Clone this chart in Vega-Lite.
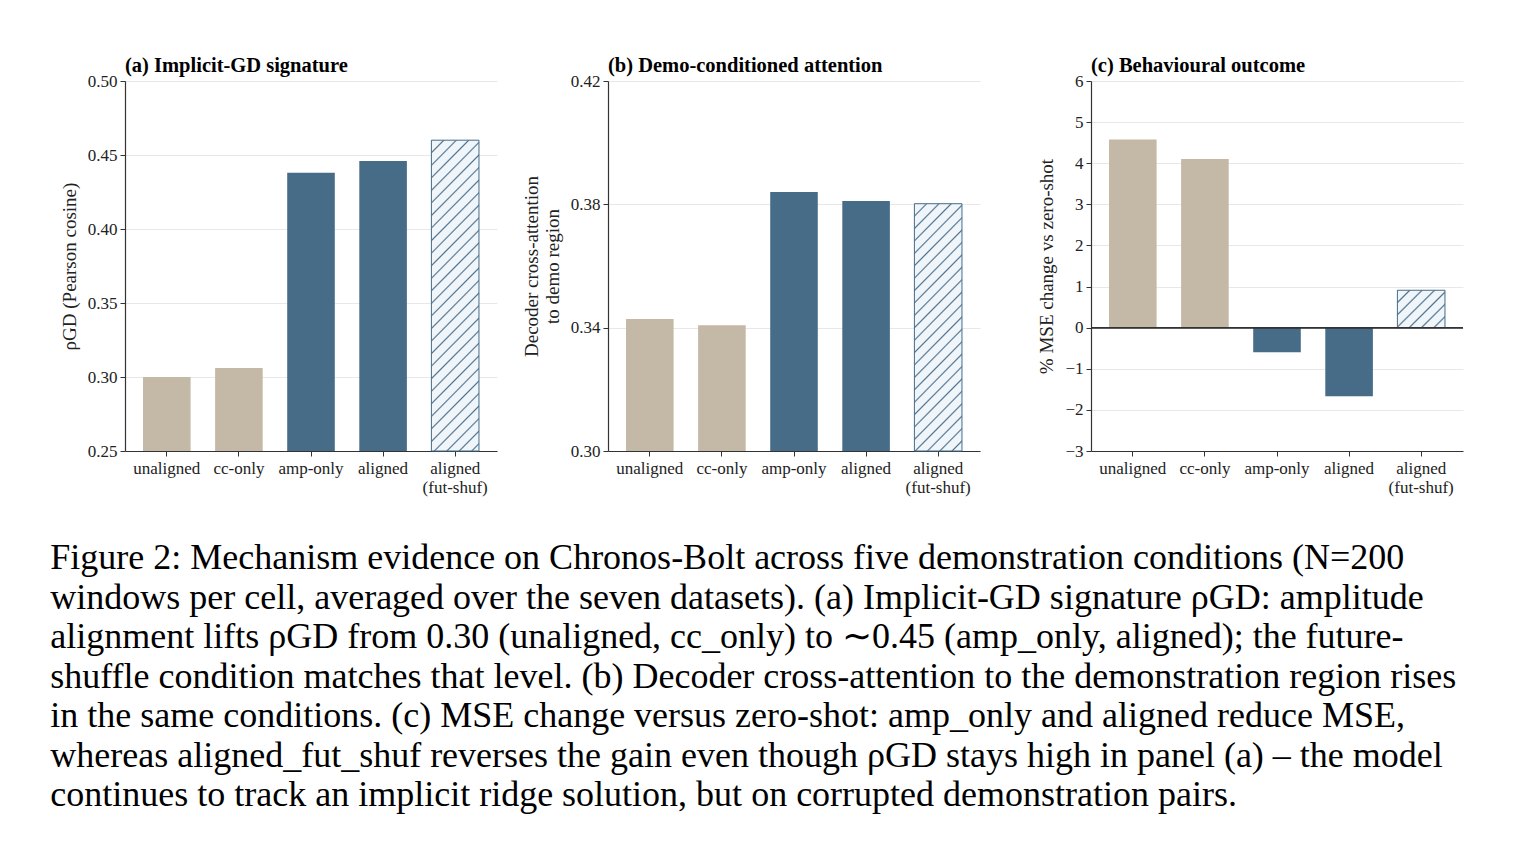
{
  "$schema": "https://vega.github.io/schema/vega-lite/v6.json",
  "background": "white",
  "padding": {"left": 50, "top": 55, "right": 10, "bottom": 10},
  "datasets": {
    "bars": [
      {"panel": "a", "cond": "unaligned", "kind": "base", "value": 0.300},
      {"panel": "a", "cond": "cc-only", "kind": "base", "value": 0.306},
      {"panel": "a", "cond": "amp-only", "kind": "amp", "value": 0.438},
      {"panel": "a", "cond": "aligned", "kind": "amp", "value": 0.446},
      {"panel": "a", "cond": "aligned (fut-shuf)", "kind": "hatch", "value": 0.460},
      {"panel": "b", "cond": "unaligned", "kind": "base", "value": 0.3428},
      {"panel": "b", "cond": "cc-only", "kind": "base", "value": 0.3408},
      {"panel": "b", "cond": "amp-only", "kind": "amp", "value": 0.3840},
      {"panel": "b", "cond": "aligned", "kind": "amp", "value": 0.3811},
      {"panel": "b", "cond": "aligned (fut-shuf)", "kind": "hatch", "value": 0.3802},
      {"panel": "c", "cond": "unaligned", "kind": "base", "value": 4.58},
      {"panel": "c", "cond": "cc-only", "kind": "base", "value": 4.10},
      {"panel": "c", "cond": "amp-only", "kind": "amp", "value": -0.60},
      {"panel": "c", "cond": "aligned", "kind": "amp", "value": -1.67},
      {"panel": "c", "cond": "aligned (fut-shuf)", "kind": "hatch", "value": 0.91}
    ]
  },
  "data": {"name": "bars"},
  "title": {
    "text": [
      "Figure 2: Mechanism evidence on Chronos-Bolt across five demonstration conditions (N=200",
      "windows per cell, averaged over the seven datasets). (a) Implicit-GD signature ρGD: amplitude",
      "alignment lifts ρGD from 0.30 (unaligned, cc_only) to ∼0.45 (amp_only, aligned); the future-",
      "shuffle condition matches that level. (b) Decoder cross-attention to the demonstration region rises",
      "in the same conditions. (c) MSE change versus zero-shot: amp_only and aligned reduce MSE,",
      "whereas aligned_fut_shuf reverses the gain even though ρGD stays high in panel (a) – the model",
      "continues to track an implicit ridge solution, but on corrupted demonstration pairs."
    ],
    "orient": "bottom",
    "anchor": "start",
    "frame": "bounds",
    "font": "Liberation Serif",
    "fontSize": 36,
    "fontWeight": "normal",
    "lineHeight": 39.5,
    "color": "#000000",
    "offset": 46,
    "dx": -10
  },
  "spacing": 57,
  "hconcat": [
    {
      "spacing": 25,
      "hconcat": [
        {
          "title": "(a) Implicit-GD signature",
          "width": 372,
          "height": 370,
          "transform": [{"filter": "datum.panel == 'a'"}],
          "encoding": {
            "x": {
              "field": "cond",
              "type": "nominal",
              "sort": ["unaligned", "cc-only", "amp-only", "aligned", "aligned (fut-shuf)"],
              "scale": {"paddingInner": 0.34, "paddingOuter": 0.25},
              "axis": {"labelExpr": "datum.value == 'aligned (fut-shuf)' ? ['aligned', '(fut-shuf)'] : datum.value"}
            },
            "y": {
              "field": "value",
              "type": "quantitative",
              "scale": {"domain": [0.25, 0.5], "zero": false, "nice": false},
              "axis": {"title": "ρGD  (Pearson cosine)", "values": [0.25, 0.3, 0.35, 0.4, 0.45, 0.5], "format": ".2f"}
            },
            "y2": {"datum": 0.25}
          },
          "layer": [
            {
              "transform": [{"filter": "datum.kind != 'hatch'"}],
              "mark": {"type": "bar"},
              "encoding": {
                "color": {"field": "kind", "type": "nominal", "scale": {"domain": ["base", "amp"], "range": ["#c4b8a6", "#466c87"]}, "legend": null}
              }
            },
            {
              "transform": [{"filter": "datum.kind == 'hatch'"}],
              "mark": {
                "type": "bar",
                "stroke": "#466c87",
                "strokeWidth": 1,
                "fill": {
                  "gradient": "linear", "x1": 0, "y1": 0, "x2": 0.174, "y2": 1.127,
                  "stops": [
                    {"offset": 0, "color": "#4f7390"}, {"offset": 0.0045, "color": "#f0f5f9"},
                    {"offset": 0.0305, "color": "#f0f5f9"}, {"offset": 0.035, "color": "#4f7390"}, {"offset": 0.0395, "color": "#f0f5f9"},
                    {"offset": 0.0655, "color": "#f0f5f9"}, {"offset": 0.07, "color": "#4f7390"}, {"offset": 0.0745, "color": "#f0f5f9"},
                    {"offset": 0.1005, "color": "#f0f5f9"}, {"offset": 0.105, "color": "#4f7390"}, {"offset": 0.1095, "color": "#f0f5f9"},
                    {"offset": 0.1355, "color": "#f0f5f9"}, {"offset": 0.14, "color": "#4f7390"}, {"offset": 0.1445, "color": "#f0f5f9"},
                    {"offset": 0.1705, "color": "#f0f5f9"}, {"offset": 0.175, "color": "#4f7390"}, {"offset": 0.1795, "color": "#f0f5f9"},
                    {"offset": 0.2055, "color": "#f0f5f9"}, {"offset": 0.21, "color": "#4f7390"}, {"offset": 0.2145, "color": "#f0f5f9"},
                    {"offset": 0.2405, "color": "#f0f5f9"}, {"offset": 0.245, "color": "#4f7390"}, {"offset": 0.2495, "color": "#f0f5f9"},
                    {"offset": 0.2755, "color": "#f0f5f9"}, {"offset": 0.28, "color": "#4f7390"}, {"offset": 0.2845, "color": "#f0f5f9"},
                    {"offset": 0.3105, "color": "#f0f5f9"}, {"offset": 0.315, "color": "#4f7390"}, {"offset": 0.3195, "color": "#f0f5f9"},
                    {"offset": 0.3455, "color": "#f0f5f9"}, {"offset": 0.35, "color": "#4f7390"}, {"offset": 0.3545, "color": "#f0f5f9"},
                    {"offset": 0.3805, "color": "#f0f5f9"}, {"offset": 0.385, "color": "#4f7390"}, {"offset": 0.3895, "color": "#f0f5f9"},
                    {"offset": 0.4155, "color": "#f0f5f9"}, {"offset": 0.42, "color": "#4f7390"}, {"offset": 0.4245, "color": "#f0f5f9"},
                    {"offset": 0.4505, "color": "#f0f5f9"}, {"offset": 0.455, "color": "#4f7390"}, {"offset": 0.4595, "color": "#f0f5f9"},
                    {"offset": 0.4855, "color": "#f0f5f9"}, {"offset": 0.49, "color": "#4f7390"}, {"offset": 0.4945, "color": "#f0f5f9"},
                    {"offset": 0.5205, "color": "#f0f5f9"}, {"offset": 0.525, "color": "#4f7390"}, {"offset": 0.5295, "color": "#f0f5f9"},
                    {"offset": 0.5555, "color": "#f0f5f9"}, {"offset": 0.56, "color": "#4f7390"}, {"offset": 0.5645, "color": "#f0f5f9"},
                    {"offset": 0.5905, "color": "#f0f5f9"}, {"offset": 0.595, "color": "#4f7390"}, {"offset": 0.5995, "color": "#f0f5f9"},
                    {"offset": 0.6255, "color": "#f0f5f9"}, {"offset": 0.63, "color": "#4f7390"}, {"offset": 0.6345, "color": "#f0f5f9"},
                    {"offset": 0.6605, "color": "#f0f5f9"}, {"offset": 0.665, "color": "#4f7390"}, {"offset": 0.6695, "color": "#f0f5f9"},
                    {"offset": 0.6955, "color": "#f0f5f9"}, {"offset": 0.7, "color": "#4f7390"}, {"offset": 0.7045, "color": "#f0f5f9"},
                    {"offset": 0.7305, "color": "#f0f5f9"}, {"offset": 0.735, "color": "#4f7390"}, {"offset": 0.7395, "color": "#f0f5f9"},
                    {"offset": 0.7655, "color": "#f0f5f9"}, {"offset": 0.77, "color": "#4f7390"}, {"offset": 0.7745, "color": "#f0f5f9"},
                    {"offset": 0.8005, "color": "#f0f5f9"}, {"offset": 0.805, "color": "#4f7390"}, {"offset": 0.8095, "color": "#f0f5f9"},
                    {"offset": 0.8355, "color": "#f0f5f9"}, {"offset": 0.84, "color": "#4f7390"}, {"offset": 0.8445, "color": "#f0f5f9"},
                    {"offset": 0.8705, "color": "#f0f5f9"}, {"offset": 0.875, "color": "#4f7390"}, {"offset": 0.8795, "color": "#f0f5f9"},
                    {"offset": 0.9055, "color": "#f0f5f9"}, {"offset": 0.91, "color": "#4f7390"}, {"offset": 0.9145, "color": "#f0f5f9"},
                    {"offset": 0.9405, "color": "#f0f5f9"}, {"offset": 0.945, "color": "#4f7390"}, {"offset": 0.9495, "color": "#f0f5f9"},
                    {"offset": 0.9755, "color": "#f0f5f9"}, {"offset": 0.98, "color": "#4f7390"}, {"offset": 0.9845, "color": "#f0f5f9"}
                  ]
                }
              }
            }
          ]
        },
        {
          "title": "(b) Demo-conditioned attention",
          "width": 372,
          "height": 370,
          "transform": [{"filter": "datum.panel == 'b'"}],
          "encoding": {
            "x": {
              "field": "cond",
              "type": "nominal",
              "sort": ["unaligned", "cc-only", "amp-only", "aligned", "aligned (fut-shuf)"],
              "scale": {"paddingInner": 0.34, "paddingOuter": 0.25},
              "axis": {"labelExpr": "datum.value == 'aligned (fut-shuf)' ? ['aligned', '(fut-shuf)'] : datum.value"}
            },
            "y": {
              "field": "value",
              "type": "quantitative",
              "scale": {"domain": [0.3, 0.42], "zero": false, "nice": false},
              "axis": {"title": ["Decoder cross-attention", "to demo region"], "values": [0.3, 0.34, 0.38, 0.42], "format": ".2f"}
            },
            "y2": {"datum": 0.3}
          },
          "layer": [
            {
              "transform": [{"filter": "datum.kind != 'hatch'"}],
              "mark": {"type": "bar"},
              "encoding": {
                "color": {"field": "kind", "type": "nominal", "scale": {"domain": ["base", "amp"], "range": ["#c4b8a6", "#466c87"]}, "legend": null}
              }
            },
            {
              "transform": [{"filter": "datum.kind == 'hatch'"}],
              "mark": {
                "type": "bar",
                "stroke": "#466c87",
                "strokeWidth": 1,
                "fill": {
                  "gradient": "linear", "x1": 0, "y1": 0, "x2": 0.224, "y2": 1.151,
                  "stops": [
                    {"offset": 0, "color": "#4f7390"}, {"offset": 0.0055, "color": "#f0f5f9"},
                    {"offset": 0.0365, "color": "#f0f5f9"}, {"offset": 0.042, "color": "#4f7390"}, {"offset": 0.0475, "color": "#f0f5f9"},
                    {"offset": 0.0785, "color": "#f0f5f9"}, {"offset": 0.084, "color": "#4f7390"}, {"offset": 0.0895, "color": "#f0f5f9"},
                    {"offset": 0.1205, "color": "#f0f5f9"}, {"offset": 0.126, "color": "#4f7390"}, {"offset": 0.1315, "color": "#f0f5f9"},
                    {"offset": 0.1625, "color": "#f0f5f9"}, {"offset": 0.168, "color": "#4f7390"}, {"offset": 0.1735, "color": "#f0f5f9"},
                    {"offset": 0.2045, "color": "#f0f5f9"}, {"offset": 0.21, "color": "#4f7390"}, {"offset": 0.2155, "color": "#f0f5f9"},
                    {"offset": 0.2465, "color": "#f0f5f9"}, {"offset": 0.252, "color": "#4f7390"}, {"offset": 0.2575, "color": "#f0f5f9"},
                    {"offset": 0.2885, "color": "#f0f5f9"}, {"offset": 0.294, "color": "#4f7390"}, {"offset": 0.2995, "color": "#f0f5f9"},
                    {"offset": 0.3305, "color": "#f0f5f9"}, {"offset": 0.336, "color": "#4f7390"}, {"offset": 0.3415, "color": "#f0f5f9"},
                    {"offset": 0.3725, "color": "#f0f5f9"}, {"offset": 0.378, "color": "#4f7390"}, {"offset": 0.3835, "color": "#f0f5f9"},
                    {"offset": 0.4145, "color": "#f0f5f9"}, {"offset": 0.42, "color": "#4f7390"}, {"offset": 0.4255, "color": "#f0f5f9"},
                    {"offset": 0.4565, "color": "#f0f5f9"}, {"offset": 0.462, "color": "#4f7390"}, {"offset": 0.4675, "color": "#f0f5f9"},
                    {"offset": 0.4985, "color": "#f0f5f9"}, {"offset": 0.504, "color": "#4f7390"}, {"offset": 0.5095, "color": "#f0f5f9"},
                    {"offset": 0.5405, "color": "#f0f5f9"}, {"offset": 0.546, "color": "#4f7390"}, {"offset": 0.5515, "color": "#f0f5f9"},
                    {"offset": 0.5825, "color": "#f0f5f9"}, {"offset": 0.588, "color": "#4f7390"}, {"offset": 0.5935, "color": "#f0f5f9"},
                    {"offset": 0.6245, "color": "#f0f5f9"}, {"offset": 0.63, "color": "#4f7390"}, {"offset": 0.6355, "color": "#f0f5f9"},
                    {"offset": 0.6665, "color": "#f0f5f9"}, {"offset": 0.672, "color": "#4f7390"}, {"offset": 0.6775, "color": "#f0f5f9"},
                    {"offset": 0.7085, "color": "#f0f5f9"}, {"offset": 0.714, "color": "#4f7390"}, {"offset": 0.7195, "color": "#f0f5f9"},
                    {"offset": 0.7505, "color": "#f0f5f9"}, {"offset": 0.756, "color": "#4f7390"}, {"offset": 0.7615, "color": "#f0f5f9"},
                    {"offset": 0.7925, "color": "#f0f5f9"}, {"offset": 0.798, "color": "#4f7390"}, {"offset": 0.8035, "color": "#f0f5f9"},
                    {"offset": 0.8345, "color": "#f0f5f9"}, {"offset": 0.84, "color": "#4f7390"}, {"offset": 0.8455, "color": "#f0f5f9"},
                    {"offset": 0.8765, "color": "#f0f5f9"}, {"offset": 0.882, "color": "#4f7390"}, {"offset": 0.8875, "color": "#f0f5f9"},
                    {"offset": 0.9185, "color": "#f0f5f9"}, {"offset": 0.924, "color": "#4f7390"}, {"offset": 0.9295, "color": "#f0f5f9"},
                    {"offset": 0.9605, "color": "#f0f5f9"}, {"offset": 0.966, "color": "#4f7390"}, {"offset": 0.9715, "color": "#f0f5f9"}
                  ]
                }
              }
            }
          ]
        }
      ]
    },
    {
      "title": "(c) Behavioural outcome",
      "width": 372,
      "height": 370,
      "transform": [{"filter": "datum.panel == 'c'"}],
      "encoding": {
        "x": {
          "field": "cond",
          "type": "nominal",
          "sort": ["unaligned", "cc-only", "amp-only", "aligned", "aligned (fut-shuf)"],
          "scale": {"paddingInner": 0.34, "paddingOuter": 0.25},
          "axis": {"labelExpr": "datum.value == 'aligned (fut-shuf)' ? ['aligned', '(fut-shuf)'] : datum.value"}
        },
        "y": {
          "field": "value",
          "type": "quantitative",
          "scale": {"domain": [-3, 6], "nice": false},
          "axis": {"title": "% MSE change vs zero-shot", "values": [-3, -2, -1, 0, 1, 2, 3, 4, 5, 6], "format": "d"}
        },
        "y2": {"datum": 0}
      },
      "layer": [
        {
          "transform": [{"filter": "datum.kind != 'hatch'"}],
          "mark": {"type": "bar"},
          "encoding": {
            "color": {"field": "kind", "type": "nominal", "scale": {"domain": ["base", "amp"], "range": ["#c4b8a6", "#466c87"]}, "legend": null}
          }
        },
        {
          "transform": [{"filter": "datum.kind == 'hatch'"}],
          "mark": {
            "type": "bar",
            "stroke": "#466c87",
            "strokeWidth": 1,
            "fill": {
              "gradient": "linear", "x1": 0, "y1": 0, "x2": 1.101, "y2": 0.872,
              "stops": [
                {"offset": 0, "color": "#4f7390"}, {"offset": 0.02, "color": "#f0f5f9"},
                {"offset": 0.125, "color": "#f0f5f9"}, {"offset": 0.145, "color": "#4f7390"}, {"offset": 0.165, "color": "#f0f5f9"},
                {"offset": 0.27, "color": "#f0f5f9"}, {"offset": 0.29, "color": "#4f7390"}, {"offset": 0.31, "color": "#f0f5f9"},
                {"offset": 0.415, "color": "#f0f5f9"}, {"offset": 0.435, "color": "#4f7390"}, {"offset": 0.455, "color": "#f0f5f9"},
                {"offset": 0.56, "color": "#f0f5f9"}, {"offset": 0.58, "color": "#4f7390"}, {"offset": 0.6, "color": "#f0f5f9"},
                {"offset": 0.705, "color": "#f0f5f9"}, {"offset": 0.725, "color": "#4f7390"}, {"offset": 0.745, "color": "#f0f5f9"},
                {"offset": 0.85, "color": "#f0f5f9"}, {"offset": 0.87, "color": "#4f7390"}, {"offset": 0.89, "color": "#f0f5f9"}
              ]
            }
          }
        },
        {
          "mark": {"type": "rule", "color": "#333333", "strokeWidth": 1.3},
          "encoding": {"y": {"datum": 0}, "x": null, "y2": null}
        }
      ]
    }
  ],
  "config": {
    "view": {"stroke": null},
    "title": {
      "font": "Liberation Serif",
      "fontSize": 20.5,
      "fontWeight": "bold",
      "anchor": "start",
      "frame": "group",
      "color": "#000000",
      "offset": -4
    },
    "axis": {
      "labelFont": "Liberation Serif",
      "labelFontSize": 17,
      "labelColor": "#222222",
      "titleFont": "Liberation Serif",
      "titleFontSize": 19,
      "titleFontWeight": "normal",
      "titleColor": "#222222",
      "titleLineHeight": 21,
      "domainColor": "#333333",
      "domainWidth": 1.2,
      "tickColor": "#333333",
      "tickSize": 5
    },
    "axisX": {"grid": false, "labelAngle": 0, "title": null, "labelPadding": 4},
    "axisY": {"grid": true, "gridColor": "#e8e8e8", "titlePadding": 8, "labelPadding": 3}
  }
}
